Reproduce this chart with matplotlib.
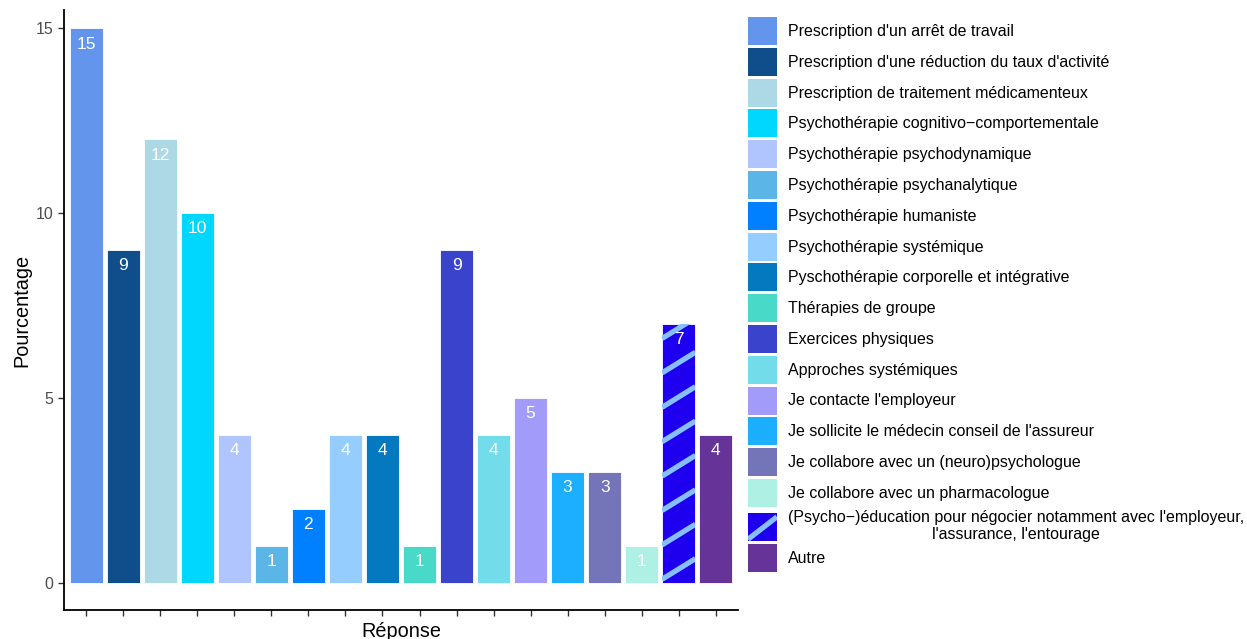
import matplotlib
matplotlib.use("Agg")
import matplotlib.pyplot as plt
from matplotlib.patches import Rectangle, Patch
from matplotlib.lines import Line2D
from matplotlib.legend_handler import HandlerBase

plt.rcParams['font.family'] = ['Liberation Sans', 'DejaVu Sans']

categories = [
    "Prescription d'un arrêt de travail",
    "Prescription d'une réduction du taux d'activité",
    "Prescription de traitement médicamenteux",
    "Psychothérapie cognitivo\u2212comportementale",
    "Psychothérapie psychodynamique",
    "Psychothérapie psychanalytique",
    "Psychothérapie humaniste",
    "Psychothérapie systémique",
    "Pyschothérapie corporelle et intégrative",
    "Thérapies de groupe",
    "Exercices physiques",
    "Approches systémiques",
    "Je contacte l'employeur",
    "Je sollicite le médecin conseil de l'assureur",
    "Je collabore avec un (neuro)psychologue",
    "Je collabore avec un pharmacologue",
    "(Psycho\u2212)éducation pour négocier notamment avec l'employeur,\nl'assurance, l'entourage",
    "Autre",
]
values = [15, 9, 12, 10, 4, 1, 2, 4, 4, 1, 9, 4, 5, 3, 3, 1, 7, 4]
colors = [
    "#6495ED", "#104E8B", "#ADD8E6", "#00D7FF", "#B0C4FE", "#5BB5E6",
    "#0080FF", "#96CDFF", "#0479BF", "#48D9C8", "#3A43CC", "#72DCEA",
    "#A29BFA", "#1CAEFF", "#7474B8", "#AFF0E5", "#1E00EE", "#663399",
]
hatched_index = 16
stripe_color = "#86BFFF"
yticks = [0, 5, 10, 15]

fig = plt.figure(figsize=(12.47, 6.39), dpi=100)
ax = fig.add_axes([64/1247, 1-610/639, (738-64)/1247, (610-10)/639])

x = list(range(1, len(values) + 1))
bars = ax.bar(x, values, width=0.9, color=colors, edgecolor="white", linewidth=0.6)

ax.set_xlim(0.4, len(values) + 0.6)
ax.set_ylim(-0.73, 15.49)

# diagonal stripes on the hatched bar
b = bars[hatched_index]
bx, bw, bh = b.get_x(), b.get_width(), b.get_height()
slope = 0.62
spacing = 0.93
k = -1
while k * spacing < bh + 1:
    y0 = k * spacing + 0.1
    ln = Line2D([bx, bx + bw], [y0, y0 + slope * bw], color=stripe_color, lw=3.8,
                solid_capstyle='butt', zorder=3)
    ax.add_line(ln)
    ln.set_clip_path(b)
    k += 1

for xi, v in zip(x, values):
    ax.text(xi, v - 0.43, str(v), ha='center', va='center', color='white', fontsize=12.5, zorder=4)

ax.set_yticks(yticks)
ax.set_xticks(x)
ax.set_xticklabels([])
ax.tick_params(axis='y', labelsize=11.5, labelcolor='#4D4D4D', length=4, width=1, color='#333333')
ax.tick_params(axis='x', length=4, width=1, color='#333333')
for s in ['top', 'right']:
    ax.spines[s].set_visible(False)
for s in ['left', 'bottom']:
    ax.spines[s].set_linewidth(1.3)
    ax.spines[s].set_color('black')

ax.set_ylabel("Pourcentage", fontsize=14.3, labelpad=3)
ax.set_xlabel("Réponse", fontsize=14.3, labelpad=1)


class StripeHandler(HandlerBase):
    def create_artists(self, legend, orig_handle, xdescent, ydescent, width, height, fontsize, trans):
        r = Rectangle((-xdescent, -ydescent), width, height, facecolor=orig_handle.get_facecolor(),
                      edgecolor='none', transform=trans)
        l = Line2D([-xdescent, -xdescent + width],
                   [-ydescent + 0.05 * height, -ydescent + 0.85 * height],
                   color=stripe_color, lw=3.8, solid_capstyle='butt', transform=trans)
        l.set_clip_path(r)
        return [r, l]


handles = [Patch(facecolor=c, edgecolor='none') for c in colors]
leg = fig.legend(handles, categories, loc='upper left',
                 bbox_to_anchor=(748/1247, 1-17/639), frameon=False,
                 fontsize=11.5, handlelength=1.81, handleheight=2.32,
                 labelspacing=0.175, handletextpad=0.7, borderpad=0, borderaxespad=0,
                 handler_map={handles[hatched_index]: StripeHandler()})
for i, t in enumerate(leg.get_texts()):
    if i == hatched_index:
        t.set_multialignment('center')
        t.set_linespacing(1.15)

fig.savefig("out.png", dpi=100)
